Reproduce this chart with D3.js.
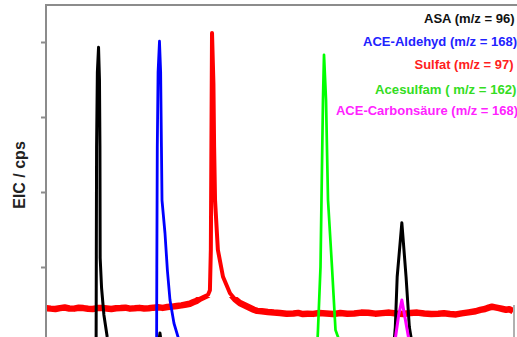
<!DOCTYPE html>
<html>
<head>
<meta charset="utf-8">
<script src="https://cdn.jsdelivr.net/npm/d3@7"></script>
<style>
  html, body { margin: 0; padding: 0; background: #fff; }
  svg { display: block; }
</style>
</head>
<body>
<svg id="chart" width="517" height="337"></svg>
<script>
// ---- data (retention time t, intensity in tick units) ----
const seriesNames = ["Sulfat (m/z = 97)", "ASA (m/z = 96)", "ACE-Aldehyd (m/z = 168)", "Acesulfam ( m/z = 162)", "ACE-Carbonsäure (m/z = 168)"];

const sulfat = [
  [0.0,0.453],[0.1,0.445],[0.2,0.44],[0.3,0.452],[0.4,0.46],[0.5,0.447],[0.6,0.445],[0.7,0.456],[0.8,0.452],
  [0.9,0.443],[1.0,0.44],[1.1,0.452],[1.2,0.455],[1.3,0.447],[1.4,0.44],[1.5,0.45],[1.6,0.452],[1.7,0.458],
  [1.8,0.445],[1.9,0.449],[2.0,0.455],[2.1,0.446],[2.2,0.45],[2.3,0.458],[2.4,0.462],[2.5,0.455],[2.6,0.466],
  [2.7,0.472],[2.8,0.48],[2.9,0.488],[3.0,0.50],[3.08,0.51],
  [3.15,0.53],[3.22,0.548],[3.3,0.58],[3.4,0.61],[3.47,0.63],[3.51,0.69],[3.53,1.23],[3.555,4.12],[3.585,3.45],
  [3.60,2.6],[3.62,1.89],[3.68,1.23],[3.79,0.87],[3.94,0.65],[4.05,0.57],[4.15,0.52],[4.25,0.49],[4.35,0.46],
  [4.45,0.43],[4.52,0.415],[4.62,0.41],[4.75,0.40],[4.88,0.392],[5.01,0.387],[5.15,0.378],[5.3,0.38],[5.4,0.388],
  [5.5,0.372],[5.6,0.378],[5.72,0.375],[5.85,0.386],[6.0,0.38],[6.15,0.372],[6.3,0.387],[6.45,0.378],[6.6,0.38],
  [6.75,0.392],[6.9,0.39],[7.05,0.378],[7.2,0.385],[7.35,0.392],[7.5,0.38],[7.65,0.374],[7.8,0.386],[7.95,0.392],
  [8.1,0.38],[8.25,0.372],[8.4,0.376],[8.52,0.384],[8.65,0.373],[8.78,0.368],[8.9,0.382],[9.05,0.395],
  [9.2,0.41],[9.3,0.428],[9.4,0.44],[9.48,0.458],[9.55,0.47],[9.62,0.462],[9.7,0.452],[9.78,0.44],[9.85,0.43],
  [9.92,0.436],[10.0,0.413]
];
const asa = [
  [0.6,-0.3],[1.072,-0.3],[1.077,1.0],[1.083,2.6],[1.10,3.6],[1.125,3.93],[1.145,3.5],[1.155,2.6],[1.16,1.12],
  [1.19,0.72],[1.24,0.36],[1.31,0.07],[1.40,-0.15],[1.6,-0.3],[2.35,-0.3],[2.44,0.12],[2.53,-0.3],
  [7.3,-0.3],[7.44,-0.1],[7.48,0.2],[7.52,0.87],[7.62,1.59],[7.71,0.87],[7.78,0.2],[7.86,-0.1],[8.0,-0.3]
];
const aldehyd = [
  [2.1,-0.3],[2.367,-0.3],[2.373,1.0],[2.383,2.6],[2.40,3.6],[2.43,4.01],[2.455,3.6],[2.472,2.6],[2.484,1.89],
  [2.548,1.45],[2.60,0.95],[2.655,0.56],[2.74,0.25],[2.827,0.067],[2.95,-0.2],[3.1,-0.3]
];
const acesulfam = [
  [5.5,-0.3],[5.79,-0.3],[5.824,0.16],[5.878,1.0],[5.899,1.89],[5.931,3.23],[5.953,3.83],[5.996,3.23],
  [6.039,1.89],[6.124,1.0],[6.199,0.16],[6.253,0.067],[6.4,-0.3]
];
const carbonsaeure = [
  [7.35,-0.3],[7.47,0.0],[7.55,0.35],[7.62,0.56],[7.68,0.35],[7.78,0.0],[7.9,-0.3]
];
const yTicks = [1, 2, 3, 4];
const legendLabels = ["ASA (m/z = 96)", "ACE-Aldehyd (m/z = 168)", "Sulfat (m/z = 97)", "Acesulfam ( m/z = 162)", "ACE-Carbonsäure (m/z = 168)"];
const yLabel = "EIC / cps";

// ---- drawing ----
const svg = d3.select("#chart");
const x = d3.scaleLinear().domain([0, 10]).range([46, 513]);
const y = d3.scaleLinear().domain([0, 4]).range([342, 42]);

const defs = svg.append("defs");
defs.append("clipPath").attr("id", "plotclip")
  .append("rect").attr("x", 47).attr("y", 6).attr("width", 466).attr("height", 340);
// lower band where the noisy baseline is drawn wider
defs.append("clipPath").attr("id", "baseclip")
  .append("rect").attr("x", 47).attr("y", y(0.6)).attr("width", 466).attr("height", 100);

const line = d3.line().x(d => x(d[0])).y(d => y(d[1]));
const plot = svg.append("g").attr("clip-path", "url(#plotclip)");

// noisy Sulfat baseline band (wide) + peak (narrower)
plot.append("g").attr("clip-path", "url(#baseclip)")
  .append("path").datum(sulfat).attr("d", line)
  .attr("fill", "none").attr("stroke", "#ff0000").attr("stroke-width", 6.5).attr("stroke-linejoin", "round");
plot.append("path").datum(sulfat).attr("d", line)
  .attr("fill", "none").attr("stroke", "#ff0000").attr("stroke-width", 4).attr("stroke-linejoin", "round");

const traces = [
  {data: asa, color: "#000000", w: 3},
  {data: aldehyd, color: "#0000ff", w: 2.8},
  {data: acesulfam, color: "#00ff00", w: 2.7},
  {data: carbonsaeure, color: "#ff00ff", w: 3}
];
traces.forEach(t => {
  plot.append("path").datum(t.data)
    .attr("d", line)
    .attr("fill", "none")
    .attr("stroke", t.color)
    .attr("stroke-width", t.w)
    .attr("stroke-linejoin", "round");
});

// frame
svg.append("line").attr("x1", 46).attr("x2", 46).attr("y1", 4).attr("y2", 337)
  .attr("stroke", "#8c8c8c").attr("stroke-width", 2);
svg.append("line").attr("x1", 45).attr("x2", 517).attr("y1", 5).attr("y2", 5)
  .attr("stroke", "#8c8c8c").attr("stroke-width", 2);
svg.append("line").attr("x1", 514).attr("x2", 514).attr("y1", 305).attr("y2", 337)
  .attr("stroke", "#b0b0b0").attr("stroke-width", 2);

// y axis ticks (no labels)
const axis = d3.axisLeft(y).tickValues(yTicks).tickSize(5).tickFormat("");
const ag = svg.append("g").attr("transform", "translate(46,0)").call(axis);
ag.select(".domain").remove();
ag.selectAll(".tick line").attr("stroke", "#8c8c8c").attr("stroke-width", 2);

// y label
svg.append("text")
  .attr("transform", "translate(25,175) rotate(-90)")
  .attr("text-anchor", "middle")
  .attr("font-family", "Liberation Sans, Arial, sans-serif")
  .attr("font-weight", "bold")
  .attr("font-size", 16)
  .attr("fill", "#222")
  .text(yLabel);

// legend texts
const legendColors = ["#111111", "#2222ff", "#ff2020", "#33dd22", "#ff22ff"];
const legendX = [424, 363, 414.5, 375, 336];
const legendLen = [90.5, 154, 99, 141.5, 182];
const legendY = [23, 45.5, 69, 93.5, 115];
legendLabels.forEach((s, i) => {
  svg.append("text")
    .attr("x", legendX[i]).attr("y", legendY[i])
    .attr("font-family", "Liberation Sans, Arial, sans-serif")
    .attr("font-weight", "bold")
    .attr("font-size", 13)
    .attr("textLength", legendLen[i])
    .attr("lengthAdjust", "spacingAndGlyphs")
    .attr("fill", legendColors[i])
    .text(s);
});
</script>
</body>
</html>
